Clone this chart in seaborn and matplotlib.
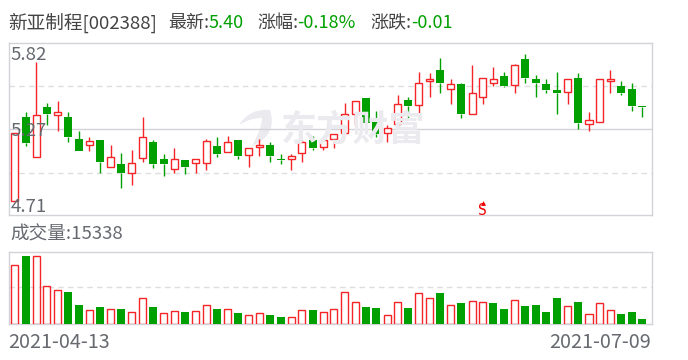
import numpy as np
import pandas as pd
import matplotlib
matplotlib.use('Agg')
import matplotlib.pyplot as plt
from matplotlib.patches import PathPatch
from matplotlib.path import Path
from matplotlib.transforms import Affine2D
import seaborn as sns

# Candles
highs = [5.225, 5.381, 5.759, 5.447, 5.464, 5.381, 5.237, 5.189, 5.167, 5.129,
         5.068, 5.091, 5.341, 5.169, 5.063, 5.106, 5.018, 5.023, 5.174, 5.189,
         5.197, 5.169, 5.106, 5.174, 5.151, 5.063, 5.063, 5.169, 5.197, 5.189,
         5.212, 5.447, 5.462, 5.487, 5.389, 5.280, 5.507, 5.495, 5.681, 5.674,
         5.790, 5.628, 5.601, 5.737, 5.636, 5.719, 5.681, 5.742, 5.820, 5.659,
         5.628, 5.681, 5.628, 5.674, 5.381, 5.628, 5.696, 5.613, 5.601, 5.424]
body_tops = [5.225, 5.341, 5.356, 5.416, 5.379, 5.341, 5.174, 5.164, 5.167, 5.038,
             4.987, 4.998, 5.194, 5.154, 5.023, 5.023, 5.018, 5.023, 5.164, 5.124,
             5.151, 5.169, 5.106, 5.129, 5.129, 5.025, 5.045, 5.151, 5.169, 5.167,
             5.212, 5.363, 5.462, 5.487, 5.313, 5.257, 5.439, 5.472, 5.598, 5.628,
             5.696, 5.590, 5.593, 5.522, 5.636, 5.628, 5.654, 5.734, 5.782, 5.628,
             5.593, 5.545, 5.628, 5.636, 5.318, 5.628, 5.628, 5.575, 5.553, 5.424]
body_bottoms = [4.710, 5.149, 5.043, 5.368, 5.361, 5.194, 5.088, 5.129, 5.005, 4.962,
                4.922, 4.917, 5.030, 4.990, 4.990, 4.947, 4.967, 4.992, 4.992, 5.066,
                5.076, 5.051, 5.053, 5.114, 5.051, 5.020, 5.023, 5.068, 5.111, 5.114,
                5.174, 5.220, 5.363, 5.300, 5.217, 5.220, 5.288, 5.429, 5.431, 5.618,
                5.596, 5.553, 5.368, 5.363, 5.492, 5.603, 5.580, 5.583, 5.641, 5.596,
                5.550, 5.527, 5.530, 5.300, 5.288, 5.303, 5.618, 5.527, 5.429, 5.419]
lows = [4.710, 5.124, 5.043, 5.283, 5.240, 5.156, 5.088, 5.088, 4.919, 4.962,
        4.808, 4.831, 5.005, 4.960, 4.899, 4.922, 4.914, 4.922, 4.945, 5.040,
        5.076, 5.028, 4.967, 5.051, 5.005, 4.990, 4.945, 5.005, 5.096, 5.096,
        5.111, 5.220, 5.285, 5.262, 5.194, 5.156, 5.262, 5.338, 5.368, 5.497,
        5.527, 5.444, 5.338, 5.363, 5.444, 5.580, 5.573, 5.527, 5.603, 5.490,
        5.527, 5.368, 5.444, 5.255, 5.240, 5.303, 5.527, 5.512, 5.391, 5.346]
candle_up = [1, 0, 1, 0, 1, 0, 0, 1, 0, 1,
             0, 1, 1, 0, 0, 1, 0, 1, 1, 0,
             1, 0, 1, 1, 0, 0, 1, 1, 0, 1,
             1, 1, 1, 0, 0, 1, 1, 0, 1, 1,
             0, 1, 0, 1, 1, 1, 0, 1, 0, 0,
             0, 0, 1, 0, 1, 1, 1, 0, 0, 0]

# Volume bars
volumes = [205320, 238360, 237180, 130980, 116820, 110920, 64900, 46020, 57820, 49560,
           50740, 38940, 88500, 57820, 35400, 42480, 40120, 42480, 63720, 50740,
           49560, 36580, 28320, 35400, 29500, 22420, 21240, 46020, 47200, 38940,
           49560, 109740, 74340, 57820, 54280, 28320, 74340, 54280, 106200, 88500,
           107380, 63720, 71980, 77880, 74340, 71980, 50740, 81420, 61360, 64900,
           40120, 89680, 60180, 75520, 31860, 70800, 46020, 33040, 40120, 15338]
volume_up = [1, 0, 1, 1, 1, 0, 0, 1, 0, 1,
             0, 1, 1, 0, 1, 1, 0, 1, 1, 0,
             1, 0, 1, 1, 0, 0, 1, 1, 0, 1,
             1, 1, 1, 0, 0, 1, 1, 0, 1, 1,
             0, 1, 0, 1, 1, 0, 0, 1, 0, 0,
             0, 0, 1, 0, 1, 1, 1, 0, 0, 0]

price_labels = ['5.82', '5.27', '4.71']
start_date = '2021-04-13'
end_date = '2021-07-09'

RED = '#f42428'
GREEN = '#00a000'
BORDER = '#d2d2d8'
DASH = '#dedede'
GREY = '#666a70'
DARK = '#444444'
MARK = '#ebebef'

sns.set_theme(style='white')
plt.rcParams['font.family'] = ['Noto Sans CJK SC', 'DejaVu Sans']

W, H = 688, 360
fig = plt.figure(figsize=(W / 100, H / 100), dpi=100)


def px_axes(left, top, right, bottom):
    a = fig.add_axes([left / W, 1 - bottom / H, (right - left) / W, (bottom - top) / H])
    a.set_zorder(2)
    a.patch.set_alpha(0)
    return a


def put(x, y, s, color=DARK, size=13, **kw):
    fig.text(x / W, 1 - y / H, s, color=color, fontsize=size, va='center', **kw)


# --------------------------
# Header and footer text
# --------------------------
put(8, 23, '新亚制程[002388]', size=13.4)
put(168, 23, '最新:')
put(209, 23, '5.40', GREEN)
put(257, 23, '涨幅:')
put(297, 23, '-0.18%', GREEN)
put(370, 23, '涨跌:')
put(411, 23, '-0.01', GREEN)
put(10, 234.5, '成交量:15338', GREY, size=13.4)
put(8, 342, start_date, GREY, size=14.3)
put(651, 342, end_date, GREY, size=14.3, ha='right')

# --------------------------
# Watermark, under the candles
# --------------------------
put(281, 130, '东方财富', MARK, size=26, fontweight='bold')
leaf = Path([(239, 125), (250, 108), (270, 110), (278, 135), (252, 146),
             (262, 128), (262, 118), (250, 118), (239, 125)],
            [Path.MOVETO, Path.CURVE3, Path.CURVE3, Path.CURVE3, Path.CURVE3,
             Path.CURVE3, Path.CURVE3, Path.CURVE3, Path.CURVE3])
fig.add_artist(PathPatch(leaf, facecolor=MARK, edgecolor='none',
                         transform=Affine2D().scale(1, -1).translate(0, H)))

# --------------------------
# Candles
# --------------------------
df = pd.DataFrame({'high': highs, 'top': body_tops, 'bottom': body_bottoms,
                   'low': lows, 'up': candle_up, 'vol': volumes, 'vol_up': volume_up})
df['i'] = np.arange(len(df))
x_range = (-0.61, 59.88)

ax = px_axes(8.5, 42.5, 651.5, 215)
up = df[df['up'] == 1]
down = df[df['up'] == 0]
wick_colors = [RED if u else GREEN for u in df['up']]
ax.vlines(df['i'], df['top'], df['high'], color=wick_colors, lw=1, zorder=3)
ax.vlines(df['i'], df['low'], df['bottom'], color=wick_colors, lw=1, zorder=3)
ax.bar(down['i'], down['top'] - down['bottom'], bottom=down['bottom'], width=0.75,
       color=GREEN, lw=0, zorder=4)
ax.bar(up['i'], up['top'] - up['bottom'], bottom=up['bottom'], width=0.66,
       facecolor='white', edgecolor=RED, lw=1, zorder=4)

ax.axhline(5.25, color=BORDER, lw=1, zorder=1)
for level in [5.575, 4.917]:
    ax.axhline(level, color=DASH, lw=1, ls=(0, (4, 3)), zorder=1)

# sell marker
ax.plot([44], [4.690], marker='^', ms=3.5, mew=0, color='#f00000', zorder=5)
ax.text(44, 4.638, 'S', color='#f00000', fontsize=10.5, ha='center', va='center',
        family='DejaVu Sans Mono', zorder=5)

ax.set_xlim(*x_range)
ax.set_ylim(4.601, 5.906)
ax.set_xticks([])
ax.set_yticks([])
for spine in ax.spines.values():
    spine.set_color(BORDER)
    spine.set_linewidth(1)

for label, y in zip(price_labels, [55, 131, 207]):
    put(10.5, y, label, GREY, size=13.4)

# --------------------------
# Volume
# --------------------------
vax = px_axes(8.5, 251.7, 651.5, 323.5)
vol_red = df[df['vol_up'] == 1]
vol_green = df[df['vol_up'] == 0]
sns.barplot(x=vol_green['i'], y=vol_green['vol'], native_scale=True, color=GREEN, saturation=1,
            width=0.75, linewidth=0, errorbar=None, ax=vax, zorder=3)
sns.barplot(x=vol_red['i'], y=vol_red['vol'], native_scale=True, color=RED, saturation=1,
            width=0.66, linewidth=1, fill=False, errorbar=None, ax=vax, zorder=3)
vax.axhline(127440, color=DASH, lw=1, ls=(0, (4, 3)), zorder=1)
vax.set_xlim(*x_range)
vax.set_ylim(0, 253700)
vax.set_xticks([])
vax.set_yticks([])
vax.set_xlabel('')
vax.set_ylabel('')
for spine in vax.spines.values():
    spine.set_color(BORDER)
    spine.set_linewidth(1)

fig.savefig('out.png', dpi=100)
